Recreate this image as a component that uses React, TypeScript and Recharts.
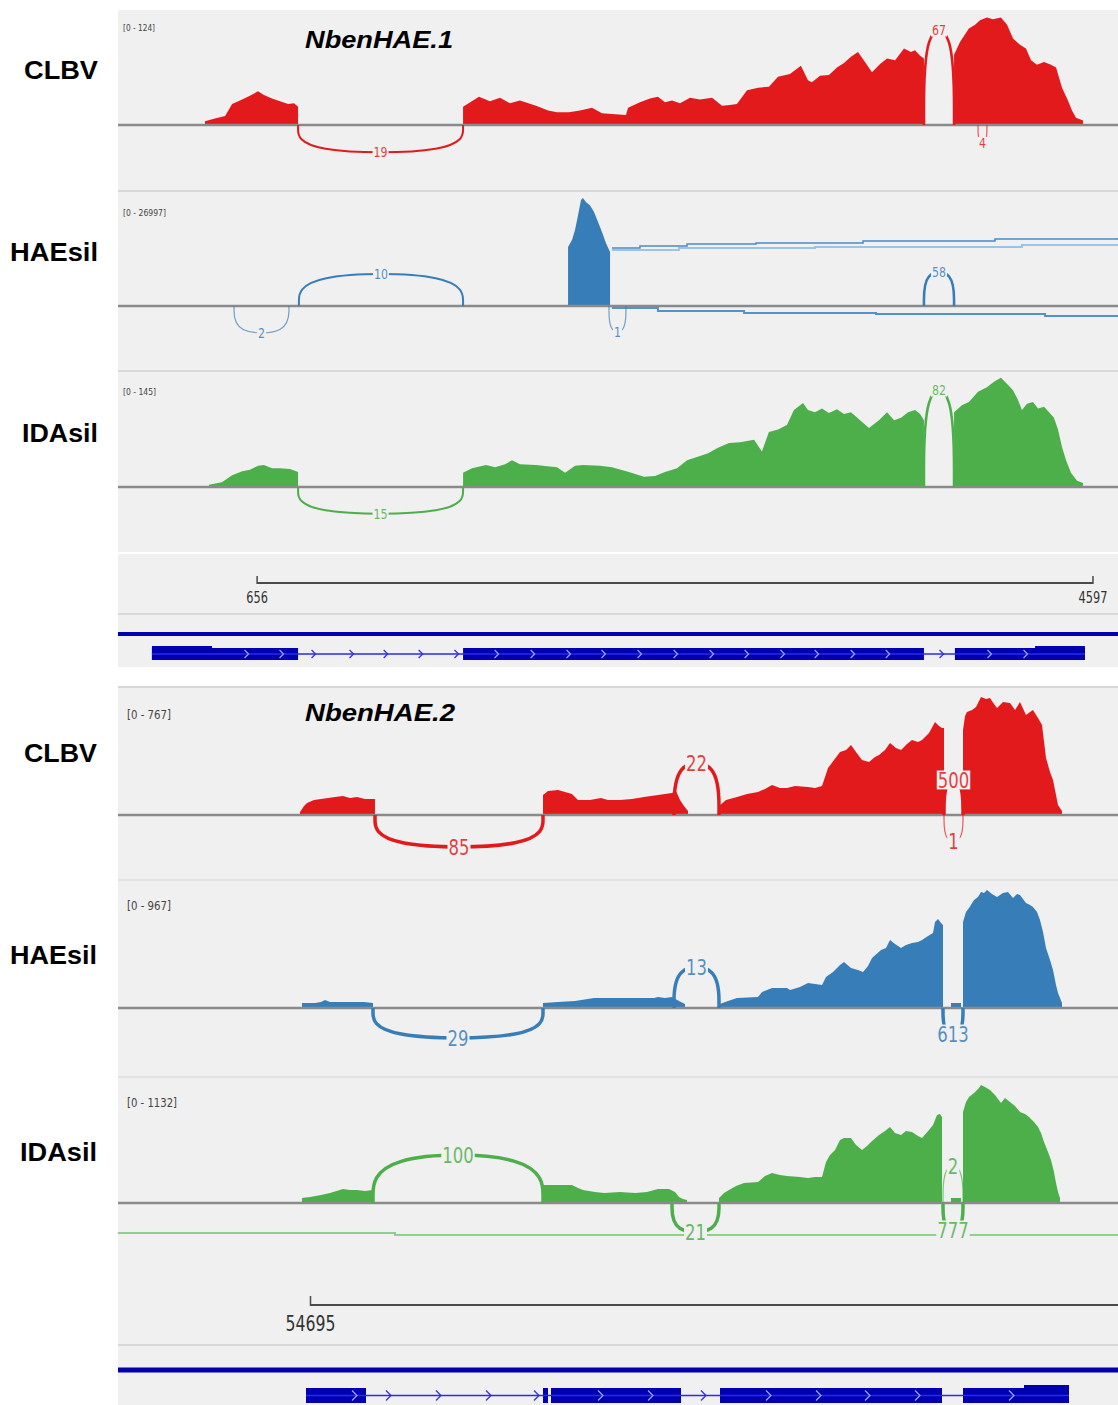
import React from 'react';
import { ComposedChart, Area, Line, Scatter, XAxis, YAxis, ReferenceLine, ReferenceArea } from 'recharts';

type Pt = [number, number];
type Junction = { start: number; end: number; count: number; depth: number };

// ---------- NbenHAE.1 (coordinates in bp) ----------
const hae1Domain = [0, 4715];

const clbv1Cov: Pt[] = [
  [410, 0], [410, 4], [457, 7], [505, 10], [538, 23], [575, 27], [622, 32], [660, 37], [688, 33], [726, 29], [764, 26], [802, 23], [830, 24], [849, 20], [849, 0],
  [1627, 0], [1627, 20], [1702, 31], [1754, 26], [1801, 30], [1848, 24], [1895, 27], [1971, 21], [2028, 16], [2070, 14], [2126, 14], [2178, 16], [2235, 19], [2282, 13], [2329, 12], [2395, 11], [2405, 19], [2461, 25], [2508, 29], [2546, 31], [2579, 25], [2612, 27], [2650, 24], [2697, 30], [2744, 28], [2801, 30], [2848, 21], [2885, 22], [2918, 23], [2966, 38], [3018, 41], [3069, 42], [3112, 53], [3168, 56], [3220, 65], [3253, 49], [3272, 47], [3310, 54], [3352, 55], [3390, 63], [3423, 68], [3456, 75], [3489, 80], [3522, 69], [3555, 58], [3593, 67], [3626, 73], [3664, 71], [3706, 84], [3739, 80], [3758, 82], [3782, 76], [3800, 73], [3800, 0],
  [3942, 0], [3942, 77], [3970, 91], [4012, 106], [4041, 110], [4064, 115], [4097, 118], [4125, 116], [4163, 118], [4192, 110], [4220, 95], [4253, 88], [4281, 84], [4305, 71], [4333, 66], [4366, 69], [4399, 66], [4423, 63], [4451, 41], [4479, 27], [4498, 16], [4517, 8], [4550, 5], [4550, 0],
];
const clbv1Junctions: Junction[] = [
  { start: 849, end: 1627, count: 19, depth: -30 },
  { start: 3800, end: 3942, count: 67, depth: 104 },
  { start: 4055, end: 4097, count: 4, depth: -20 },
];

const hae1Cov: Pt[] = [
  [2122, 0], [2122, 14100], [2141, 15800], [2155, 18200], [2169, 21700], [2183, 25300], [2192, 25800], [2207, 24800], [2225, 24100], [2244, 22500], [2263, 20100], [2282, 17700], [2301, 15000], [2320, 12900], [2320, 0],
];
const hae1Junctions: Junction[] = [
  { start: 547, end: 806, count: 2, depth: -6450 },
  { start: 853, end: 1627, count: 10, depth: 7650 },
  { start: 2315, end: 2395, count: 1, depth: -6200 },
  { start: 3800, end: 3942, count: 58, depth: 8120 },
];
const hae1UpperA: Pt[] = [[2329, 13860], [2461, 14330], [2683, 14810], [3008, 15050], [3513, 15530], [4135, 16010], [4715, 16250]];
const hae1UpperB: Pt[] = [[2329, 13380], [2645, 13860], [3286, 14100], [4262, 14570], [4715, 14570]];
const hae1Lower: Pt[] = [[2329, -480], [2546, -1190], [2952, -1670], [3574, -1910], [4371, -2390], [4715, -2390]];

const ida1Cov: Pt[] = [
  [429, 0], [429, 3], [490, 6], [538, 15], [585, 20], [622, 22], [660, 27], [688, 28], [726, 24], [764, 24], [811, 23], [849, 19], [849, 0],
  [1627, 0], [1627, 18], [1669, 24], [1735, 28], [1778, 25], [1825, 29], [1858, 34], [1895, 29], [1971, 28], [2070, 25], [2108, 18], [2155, 27], [2192, 28], [2273, 27], [2329, 25], [2409, 19], [2480, 13], [2532, 14], [2579, 19], [2636, 24], [2683, 34], [2730, 38], [2782, 43], [2829, 50], [2881, 56], [2933, 57], [2999, 60], [3036, 45], [3069, 70], [3112, 73], [3154, 79], [3187, 98], [3230, 107], [3253, 98], [3286, 95], [3319, 100], [3352, 94], [3390, 99], [3423, 93], [3456, 95], [3499, 85], [3541, 75], [3588, 85], [3626, 95], [3659, 85], [3692, 88], [3725, 95], [3758, 98], [3782, 93], [3800, 85], [3800, 0],
  [3942, 0], [3942, 95], [3979, 104], [4012, 108], [4055, 121], [4097, 127], [4130, 134], [4163, 139], [4192, 131], [4220, 123], [4243, 111], [4262, 98], [4286, 106], [4314, 108], [4338, 100], [4366, 102], [4390, 95], [4413, 88], [4432, 73], [4451, 51], [4470, 34], [4493, 18], [4522, 8], [4550, 5], [4550, 0],
];
const ida1Junctions: Junction[] = [
  { start: 849, end: 1627, count: 15, depth: -34 },
  { start: 3800, end: 3942, count: 82, depth: 123 },
];

const gene1Exons: Pt[] = [[160, 849], [1627, 3800], [3946, 4559]];
const gene1Thick: Pt[] = [[160, 443], [4324, 4559]];
const gene1ExonArrows = [608, 773, 1787, 1957, 2126, 2291, 2461, 2631, 2801, 2966, 3135, 3296, 3466, 3631, 4111, 4281];
const gene1IntronArrows = [924, 1103, 1264, 1429, 1598, 3885];
const ruler1Span: Pt = [656, 4597];
const ruler1Ticks = [656, 4597];

// ---------- NbenHAE.2 ----------
const hae2Domain = [53925, 57925];

const clbv2Cov: Pt[] = [
  [54653, 0], [54653, 18], [54669, 55], [54681, 74], [54709, 92], [54737, 98], [54765, 104], [54793, 110], [54825, 117], [54853, 104], [54881, 110], [54913, 98], [54953, 98], [54953, 0],
  [55625, 0], [55625, 123], [55645, 147], [55685, 153], [55713, 141], [55741, 129], [55765, 92], [55813, 92], [55857, 104], [55885, 92], [55933, 92], [55981, 98], [56029, 110], [56057, 117], [56085, 123], [56113, 129], [56141, 135], [56157, 147], [56173, 92], [56189, 55], [56205, 25], [56205, 0],
  [56329, 0], [56329, 55], [56357, 92], [56401, 110], [56441, 129], [56485, 141], [56513, 160], [56541, 184], [56573, 166], [56601, 166], [56633, 178], [56685, 172], [56713, 166], [56741, 178], [56765, 288], [56789, 337], [56813, 387], [56837, 399], [56857, 430], [56877, 387], [56901, 337], [56929, 325], [56953, 356], [56969, 368], [56993, 399], [57013, 442], [57037, 411], [57057, 399], [57081, 436], [57101, 460], [57125, 448], [57141, 460], [57169, 503], [57193, 571], [57209, 546], [57221, 534], [57229, 534], [57229, 0],
  [57305, 0], [57305, 522], [57313, 607], [57321, 632], [57341, 644], [57357, 663], [57377, 724], [57397, 712], [57413, 718], [57429, 681], [57441, 657], [57465, 693], [57493, 687], [57513, 644], [57533, 693], [57557, 614], [57573, 632], [57585, 644], [57605, 595], [57621, 552], [57637, 350], [57653, 264], [57665, 215], [57677, 123], [57685, 61], [57701, 25], [57701, 0],
];
const clbv2Junctions: Junction[] = [
  { start: 54953, end: 55625, count: 85, depth: -196 },
  { start: 56149, end: 56329, count: 22, depth: 319 },
  { start: 57229, end: 57305, count: 500, depth: 215 },
  { start: 57229, end: 57305, count: 1, depth: -160 },
];

const hae2Cov: Pt[] = [
  [54661, 0], [54661, 39], [54713, 39], [54737, 46], [54753, 62], [54773, 46], [54833, 46], [54909, 46], [54945, 39], [54945, 0],
  [55625, 0], [55625, 39], [55685, 46], [55753, 54], [55829, 77], [55933, 77], [56069, 77], [56085, 85], [56113, 77], [56141, 85], [56169, 54], [56193, 31], [56193, 0],
  [56333, 0], [56333, 31], [56365, 54], [56401, 77], [56485, 85], [56501, 124], [56541, 155], [56601, 155], [56613, 139], [56653, 163], [56685, 194], [56713, 186], [56741, 178], [56757, 240], [56785, 279], [56813, 333], [56829, 356], [56857, 310], [56885, 294], [56905, 279], [56925, 325], [56941, 387], [56977, 449], [56997, 464], [57013, 526], [57033, 495], [57057, 464], [57077, 488], [57101, 503], [57125, 511], [57141, 526], [57165, 557], [57185, 581], [57193, 666], [57205, 689], [57217, 658], [57225, 642], [57225, 0],
  [57257, 0], [57257, 39], [57297, 39], [57297, 0],
  [57305, 0], [57305, 666], [57317, 743], [57329, 774], [57349, 836], [57365, 859], [57377, 898], [57389, 890], [57401, 913], [57421, 882], [57441, 859], [57465, 890], [57485, 898], [57505, 851], [57521, 882], [57533, 875], [57557, 813], [57573, 797], [57585, 782], [57601, 743], [57613, 681], [57625, 588], [57637, 464], [57653, 372], [57665, 294], [57677, 178], [57685, 116], [57701, 39], [57701, 0],
];
const hae2Junctions: Junction[] = [
  { start: 54945, end: 55625, count: 29, depth: -232 },
  { start: 56149, end: 56329, count: 13, depth: 317 },
  { start: 57225, end: 57305, count: 613, depth: -201 },
];

const ida2Cov: Pt[] = [
  [54661, 0], [54661, 46], [54693, 55], [54737, 74], [54773, 92], [54825, 129], [54853, 120], [54881, 120], [54913, 110], [54945, 120], [54945, 0],
  [55625, 0], [55625, 166], [55685, 166], [55741, 166], [55765, 138], [55785, 120], [55833, 101], [55869, 92], [55933, 101], [55993, 92], [56041, 101], [56085, 129], [56129, 129], [56153, 101], [56169, 55], [56185, 37], [56201, 28], [56201, 0],
  [56329, 0], [56329, 46], [56349, 92], [56369, 120], [56397, 156], [56429, 184], [56485, 193], [56513, 248], [56541, 276], [56573, 258], [56601, 248], [56653, 239], [56685, 230], [56713, 239], [56741, 239], [56757, 377], [56773, 442], [56793, 488], [56813, 580], [56829, 598], [56857, 598], [56877, 534], [56901, 488], [56921, 524], [56937, 561], [56969, 626], [56993, 662], [57013, 699], [57033, 644], [57057, 626], [57077, 662], [57101, 653], [57125, 616], [57141, 598], [57169, 672], [57185, 718], [57201, 810], [57213, 819], [57221, 791], [57221, 0],
  [57257, 0], [57257, 46], [57297, 46], [57297, 0],
  [57305, 0], [57305, 837], [57317, 929], [57329, 975], [57349, 1012], [57369, 1058], [57377, 1086], [57393, 1067], [57413, 1040], [57433, 994], [57457, 920], [57473, 966], [57493, 929], [57513, 892], [57533, 837], [57553, 819], [57569, 791], [57589, 745], [57605, 699], [57617, 644], [57629, 561], [57645, 469], [57657, 396], [57669, 285], [57677, 184], [57685, 101], [57693, 46], [57693, 0],
];
const ida2Junctions: Junction[] = [
  { start: 54945, end: 55625, count: 100, depth: 442 },
  { start: 56141, end: 56329, count: 21, depth: -267 },
  { start: 57225, end: 57305, count: 2, depth: 340 },
  { start: 57225, end: 57305, count: 777, depth: -248 },
];
const ida2Span: Pt[] = [[53925, -276], [55033, -294], [57925, -294]];

const gene2Exons: Pt[] = [[54677, 54917], [55625, 55645], [55657, 56177], [56333, 57221], [57305, 57729]];
const gene2Thick: Pt[] = [[57549, 57729]];
const gene2ExonArrows = [54873, 55857, 56057, 56529, 56729, 56925, 57125, 57501];
const gene2IntronArrows = [55009, 55209, 55409, 55601, 56269];
const ruler2Span: Pt = [54695, 57925];
const ruler2Ticks = [54695];

// ---------- drawing ----------
const BG = '#f0f0f0';
const RED = '#e31a1c';
const BLUE = '#377eb8';
const GREEN = '#4daf4a';
const NAVY = '#0000b0';
const NARROW = '"Liberation Sans Narrow", "DejaVu Sans Condensed", "Liberation Sans", Arial, sans-serif';
const SANS = '"Liberation Sans", Arial, Helvetica, sans-serif';
const M = { top: 0, right: 0, bottom: 0, left: 0 };

const pts = (a: Pt[]) => a.map(([x, y]) => ({ x, y }));

function Track({ top, base, bottom, max, domain, cov, color, junctions, big, spans = [] }: any) {
  const h = bottom - top;
  const lo = (-max * (bottom - base)) / (base - top);
  const fs = big ? 21 : 14;
  const labels = junctions.map((j: Junction) => ({ x: (j.start + j.end) / 2, y: j.depth, label: String(j.count) }));
  return (
    <div style={{ position: 'absolute', left: 118, top }}>
      <ComposedChart width={1000} height={h} margin={M}>
        <XAxis type="number" dataKey="x" domain={domain} hide allowDataOverflow />
        <YAxis type="number" dataKey="y" domain={[lo, max]} hide allowDataOverflow />
        <ReferenceLine y={0} stroke="#8a8a8a" strokeWidth={2.5} />
        {cov && (
          <Area data={pts(cov)} dataKey="y" type="linear" stroke="none" fill={color} fillOpacity={1} baseValue={0} isAnimationActive={false} />
        )}
        {spans.map((s: any, i: number) => (
          <Line key={'s' + i} data={pts(s.data)} dataKey="y" type="stepAfter" stroke={s.stroke} strokeWidth={s.width} dot={false} activeDot={false} isAnimationActive={false} />
        ))}
        {junctions.map((j: Junction, i: number) => {
          const hh = j.depth / 0.96;
          const w = j.count < 5 ? 1.2 : big ? 3.5 : j.count < 30 ? 2 : 2.6;
          return (
            <Line
              key={'j' + i}
              data={[{ x: j.start, y: 0 }, { x: j.start, y: hh }, { x: j.end, y: hh }, { x: j.end, y: 0 }]}
              dataKey="y"
              type="basis"
              stroke={color}
              strokeOpacity={j.count < 5 ? 0.7 : 1}
              strokeWidth={w}
              dot={false}
              activeDot={false}
              isAnimationActive={false}
            />
          );
        })}
        <Scatter
          data={labels}
          isAnimationActive={false}
          shape={(p: any) => {
            const t = p.payload.label;
            const tw = t.length * fs * 0.5;
            return (
              <g>
                <rect x={p.cx - tw / 2 - 1} y={p.cy - fs * 0.45} width={tw + 2} height={fs * 0.9} fill={BG} />
                <text x={p.cx} y={p.cy + fs * 0.36} textAnchor="middle" fontSize={fs} fontFamily={NARROW} fill={color} fillOpacity={0.85} textLength={tw} lengthAdjust="spacingAndGlyphs">
                  {t}
                </text>
              </g>
            );
          }}
        />
      </ComposedChart>
    </div>
  );
}

function Ruler({ top, height, domain, span, ticks, lineY, tickLen, labelY, fs, cw }: any) {
  return (
    <div style={{ position: 'absolute', left: 118, top }}>
      <ComposedChart width={1000} height={height} margin={M}>
        <XAxis type="number" dataKey="x" domain={domain} hide allowDataOverflow />
        <YAxis type="number" dataKey="y" domain={[0, height]} reversed hide allowDataOverflow />
        <ReferenceLine segment={[{ x: span[0], y: lineY }, { x: span[1], y: lineY }]} stroke="#4a4a4a" strokeWidth={2} ifOverflow="visible" />
        <Scatter
          data={ticks.map((t: number) => ({ x: t, y: lineY, label: String(t) }))}
          isAnimationActive={false}
          shape={(p: any) => (
            <g>
              <line x1={p.cx} x2={p.cx} y1={p.cy - tickLen} y2={p.cy + 1} stroke="#4a4a4a" strokeWidth={1.5} />
              <text x={p.cx} y={p.cy + labelY} textAnchor="middle" fontSize={fs} fontFamily={NARROW} fill="#333" textLength={p.payload.label.length * cw} lengthAdjust="spacingAndGlyphs">
                {p.payload.label}
              </text>
            </g>
          )}
        />
      </ComposedChart>
    </div>
  );
}

function Chevron({ cx, cy, s, color }: any) {
  return <path d={`M${cx - s * 0.6},${cy - s} L${cx + s * 0.4},${cy} L${cx - s * 0.6},${cy + s}`} fill="none" stroke={color} strokeWidth={1.2} />;
}

function Gene({ top, height, domain, exons, thick, exonArrows, intronArrows, lineY, lineW, exonTop, exonBottom, tallTop, arrow }: any) {
  const mid = (exonTop + exonBottom) / 2;
  return (
    <div style={{ position: 'absolute', left: 118, top }}>
      <ComposedChart width={1000} height={height} margin={M}>
        <XAxis type="number" dataKey="x" domain={domain} hide allowDataOverflow />
        <YAxis type="number" dataKey="y" domain={[0, height]} reversed hide allowDataOverflow />
        <ReferenceLine y={lineY} stroke={NAVY} strokeWidth={lineW} />
        <ReferenceLine segment={[{ x: exons[0][0], y: mid }, { x: exons[exons.length - 1][1], y: mid }]} stroke="#2a2aee" strokeWidth={1.3} />
        {exons.map((e: Pt, i: number) => (
          <ReferenceArea key={'e' + i} x1={e[0]} x2={e[1]} y1={exonTop} y2={exonBottom} fill={NAVY} fillOpacity={1} stroke="none" />
        ))}
        {thick.map((e: Pt, i: number) => (
          <ReferenceArea key={'t' + i} x1={e[0]} x2={e[1]} y1={tallTop} y2={exonBottom} fill={NAVY} fillOpacity={1} stroke="none" />
        ))}
        <Scatter data={intronArrows.map((x: number) => ({ x, y: mid }))} isAnimationActive={false} shape={(p: any) => <Chevron cx={p.cx} cy={p.cy} s={arrow} color="#2a2aff" />} />
        <Scatter data={exonArrows.map((x: number) => ({ x, y: mid }))} isAnimationActive={false} shape={(p: any) => <Chevron cx={p.cx} cy={p.cy} s={arrow} color="#9aa6ff" />} />
      </ComposedChart>
    </div>
  );
}

const Box = ({ y, h, c, top }: any) => (
  <div style={{ position: 'absolute', left: 118, top: y, width: 1000, height: h, background: c, zIndex: top ? 2 : 0 }} />
);

export default function App() {
  return (
    <div style={{ position: 'absolute', left: 0, top: 0, width: 1118, height: 1405, background: '#fff', overflow: 'hidden' }}>
      {/* panel backgrounds */}
      <Box y={10} h={657} c={BG} />
      <Box y={190} h={2} c="#d8d8d8" />
      <Box y={370} h={2} c="#d8d8d8" />
      <Box y={552} h={2} c="#ffffff" />
      <Box y={613} h={2} c="#d8d8d8" />
      <Box y={686} h={719} c={BG} />
      <Box y={686} h={2} c="#d8d8d8" />
      <Box y={879} h={2} c="#e2e2e2" />
      <Box y={1076} h={2} c="#e2e2e2" />
      <Box y={1344} h={2} c="#d8d8d8" />

      {/* NbenHAE.1 */}
      <Track top={12} base={125} bottom={190} max={124} domain={hae1Domain} cov={clbv1Cov} color={RED} junctions={clbv1Junctions} />
      <Track
        top={193}
        base={306}
        bottom={370}
        max={26997}
        domain={hae1Domain}
        cov={hae1Cov}
        color={BLUE}
        junctions={hae1Junctions}
        spans={[
          { data: hae1UpperB, stroke: '#9cc3e6', width: 2 },
          { data: hae1UpperA, stroke: '#4a8ac6', width: 1.5 },
          { data: hae1Lower, stroke: '#5592cc', width: 2 },
        ]}
      />
      <Track top={373} base={487} bottom={552} max={145} domain={hae1Domain} cov={ida1Cov} color={GREEN} junctions={ida1Junctions} />
      <Ruler top={555} height={58} domain={hae1Domain} span={ruler1Span} ticks={ruler1Ticks} lineY={28} tickLen={7} labelY={20} fs={15} cw={7.2} />
      <Gene top={616} height={51} domain={hae1Domain} exons={gene1Exons} thick={gene1Thick} exonArrows={gene1ExonArrows} intronArrows={gene1IntronArrows} lineY={18} lineW={4} exonTop={32} exonBottom={44} tallTop={30} arrow={4} />

      {/* NbenHAE.2 */}
      <Track top={690} base={815} bottom={879} max={767} domain={hae2Domain} cov={clbv2Cov} color={RED} junctions={clbv2Junctions} big />
      <Track top={883} base={1008} bottom={1076} max={967} domain={hae2Domain} cov={hae2Cov} color={BLUE} junctions={hae2Junctions} big />
      <Track
        top={1080}
        base={1203}
        bottom={1282}
        max={1132}
        domain={hae2Domain}
        cov={ida2Cov}
        color={GREEN}
        junctions={ida2Junctions}
        big
        spans={[{ data: ida2Span, stroke: '#8fd08c', width: 2 }]}
      />
      <Ruler top={1282} height={62} domain={hae2Domain} span={ruler2Span} ticks={ruler2Ticks} lineY={23} tickLen={9} labelY={26} fs={22} cw={10} />
      <Gene top={1350} height={55} domain={hae2Domain} exons={gene2Exons} thick={gene2Thick} exonArrows={gene2ExonArrows} intronArrows={gene2IntronArrows} lineY={20} lineW={5} exonTop={38} exonBottom={53} tallTop={35} arrow={5} />

      {/* text */}
      <svg width={1118} height={1405} style={{ position: 'absolute', left: 0, top: 0, pointerEvents: 'none' }}>
        <g fontFamily={SANS} fontWeight="bold" fontSize={25} fill="#000" textAnchor="end">
          <text x={98} y={79} textLength={74} lengthAdjust="spacingAndGlyphs">CLBV</text>
          <text x={98} y={261} textLength={88} lengthAdjust="spacingAndGlyphs">HAEsil</text>
          <text x={98} y={442} textLength={76} lengthAdjust="spacingAndGlyphs">IDAsil</text>
          <text x={97} y={762} textLength={73} lengthAdjust="spacingAndGlyphs">CLBV</text>
          <text x={97} y={964} textLength={87} lengthAdjust="spacingAndGlyphs">HAEsil</text>
          <text x={97} y={1161} textLength={77} lengthAdjust="spacingAndGlyphs">IDAsil</text>
        </g>
        <g fontFamily={SANS} fontWeight="bold" fontStyle="italic" fontSize={23} fill="#000">
          <text x={305} y={48} textLength={148} lengthAdjust="spacingAndGlyphs">NbenHAE.1</text>
          <text x={305} y={721} textLength={150} lengthAdjust="spacingAndGlyphs">NbenHAE.2</text>
        </g>
        <g fontFamily={NARROW} fill="#444">
          <text x={123} y={31} fontSize={9} textLength={32} lengthAdjust="spacingAndGlyphs">[0 - 124]</text>
          <text x={123} y={216} fontSize={9} textLength={43} lengthAdjust="spacingAndGlyphs">[0 - 26997]</text>
          <text x={123} y={395} fontSize={9} textLength={33} lengthAdjust="spacingAndGlyphs">[0 - 145]</text>
          <text x={127} y={719} fontSize={13} textLength={44} lengthAdjust="spacingAndGlyphs">[0 - 767]</text>
          <text x={127} y={910} fontSize={13} textLength={44} lengthAdjust="spacingAndGlyphs">[0 - 967]</text>
          <text x={127} y={1107} fontSize={13} textLength={50} lengthAdjust="spacingAndGlyphs">[0 - 1132]</text>
        </g>
      </svg>
    </div>
  );
}
